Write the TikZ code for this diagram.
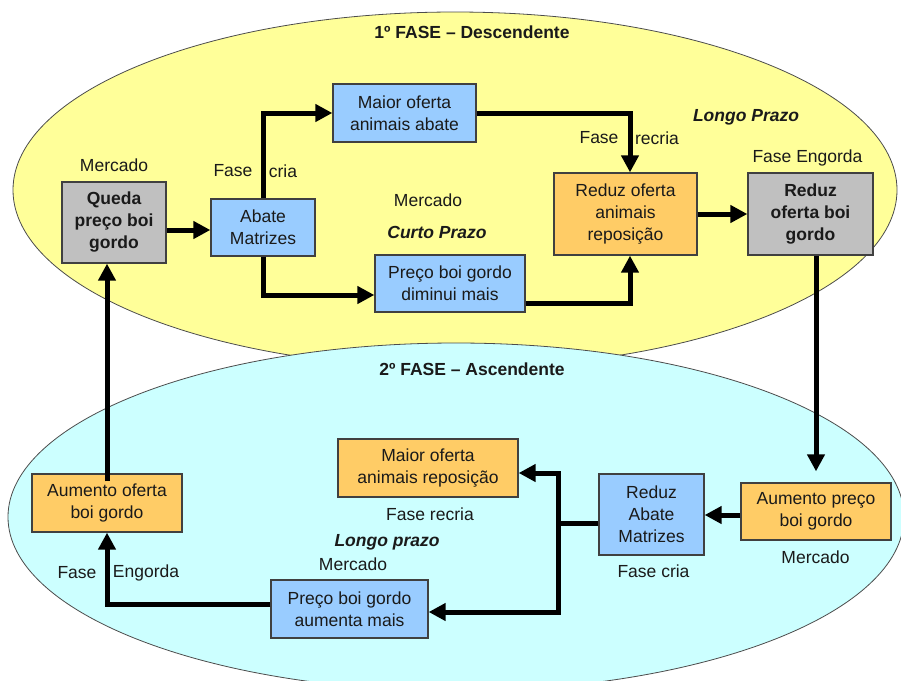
\documentclass[tikz,border=0pt]{standalone}
\usepackage{fontspec}
\setmainfont{Liberation Sans}
\usetikzlibrary{arrows.meta}
\definecolor{ellyellow}{HTML}{FFFF99}
\definecolor{ellcyan}{HTML}{CCFFFF}
\definecolor{boxblue}{HTML}{99CCFF}
\definecolor{boxorange}{HTML}{FFCC66}
\definecolor{boxgray}{HTML}{C0C0C0}
\definecolor{txt}{HTML}{1A1A1A}
\begin{document}
\begin{tikzpicture}[x=1pt,y=-1pt,
  every node/.style={font=\fontsize{17.5}{22}\selectfont, text=txt},
  box/.style={draw=black!75, line width=1.3pt, inner sep=0pt, align=center},
  bluebox/.style={box, fill=boxblue},
  orangebox/.style={box, fill=boxorange},
  graybox/.style={box, fill=boxgray, font=\fontsize{17.5}{22}\selectfont\bfseries},
  lbl/.style={inner sep=0pt},
  title/.style={inner sep=0pt, font=\fontsize{17.5}{22}\selectfont\bfseries},
  italbl/.style={inner sep=0pt, font=\fontsize{17.5}{22}\selectfont\bfseries\itshape},
  conn/.style={line width=5pt, line join=miter, draw=black},
  arr/.style={conn, -{Triangle[length=17pt,width=17pt]}},
  ell/.style={draw=black!70, line width=0.8pt}]
\useasboundingbox (0,0) rectangle (901,680);

% phase ellipses
\path[ell, fill=ellyellow] (455,190) ellipse [x radius=442pt, y radius=178pt];
\path[ell, fill=ellcyan] (456,517) ellipse [x radius=448pt, y radius=174pt];

% boxes, phase 1
\node[graybox, minimum width=104pt, minimum height=81pt] (queda) at (114,222.5) {Queda\\preço boi\\gordo};
\node[bluebox, minimum width=104pt, minimum height=57pt] (abate) at (263,227.5) {Abate\\Matrizes};
\node[bluebox, minimum width=143pt, minimum height=58pt] (maior) at (404.5,113) {Maior oferta\\animais abate};
\node[bluebox, minimum width=150pt, minimum height=57pt] (pdim) at (450,283.5) {Preço boi gordo\\diminui mais};
\node[orangebox, minimum width=143pt, minimum height=82pt] (rrep) at (625.5,214) {Reduz oferta\\animais\\reposição};
\node[graybox, minimum width=125pt, minimum height=82pt] (rboi) at (810.5,214) {Reduz\\oferta boi\\gordo};

% boxes, phase 2
\node[orangebox, minimum width=150pt, minimum height=57pt] (apreco) at (816,511.5) {Aumento preço\\boi gordo};
\node[bluebox, minimum width=105pt, minimum height=81pt] (rab) at (651.5,514.5) {Reduz\\Abate\\Matrizes};
\node[orangebox, minimum width=180pt, minimum height=58pt] (mrep) at (428,468) {Maior oferta\\animais reposição};
\node[orangebox, minimum width=150pt, minimum height=58pt] (aof) at (107,503) {Aumento oferta\\boi gordo};
\node[bluebox, minimum width=157pt, minimum height=58pt] (paum) at (349.5,609) {Preço boi gordo\\aumenta mais};

% labels
\node[title] (t1) at (472,32) {1º FASE – Descendente};
\node[title] (t2) at (472,369) {2º FASE – Ascendente};
\node[lbl] (m1) at (114,165) {Mercado};
\node[lbl] (f1) at (233,171) {Fase};
\node[lbl] (c1) at (283,171) {cria};
\node[lbl] (m2) at (428,200) {Mercado};
\node[italbl] (cp) at (437,232) {Curto Prazo};
\node[lbl] (f2) at (599,138) {Fase};
\node[lbl] (r2) at (657,138) {recria};
\node[italbl] (lp1) at (746,117) {Longo Prazo};
\node[lbl] (fe1) at (807.5,158) {Fase Engorda};
\node[lbl] (fr2) at (430,514) {Fase recria};
\node[italbl] (lp2) at (387,542) {Longo prazo};
\node[lbl] (m3) at (353,564) {Mercado};
\node[lbl] (f3) at (77,573) {Fase};
\node[lbl] (e3) at (146,573) {Engorda};
\node[lbl] (fc2) at (653.5,571) {Fase cria};
\node[lbl] (m4) at (815.5,557) {Mercado};

% connectors, phase 1
\draw[arr] ([yshift=-2.5pt]abate.west -| queda.east) -- ([yshift=-2.5pt]abate.west);
\draw[arr] (abate.north) -- (abate.north |- maior.west) -- (maior.west);
\draw[arr] (abate.south) -- ([yshift=-11.5pt]abate.south |- pdim.west) -- ([yshift=-11.5pt]pdim.west);
\coordinate (rrtop) at ([xshift=4.5pt]rrep.north);
\coordinate (rrbot) at ([xshift=4.5pt]rrep.south);
\draw[arr] (maior.east) -- (maior.east -| rrtop) -- (rrtop);
\draw[arr] ([yshift=-19.5pt]pdim.east) -- ([yshift=-19.5pt]pdim.east -| rrbot) -- (rrbot);
\draw[arr] (rrep.east) -- (rboi.west);

% connectors, phase 2
\draw[arr] (apreco.north |- rboi.south) -- ([yshift=11pt]apreco.north);
\draw[arr] ([yshift=-3.5pt]apreco.west) -- ([yshift=-3.5pt]apreco.west -| rab.east);
\coordinate (junc) at (558,523);
\draw[arr] (junc -| rab.west) -- (junc) -- ([yshift=-5pt]junc |- mrep.east) -- ([yshift=-5pt]mrep.east);
\draw[arr] (junc -| rab.west) -- (junc) -- ([yshift=-3pt]junc |- paum.east) -- ([yshift=-3pt]paum.east);
\draw[arr] ([yshift=5pt]paum.west) -- ([yshift=5pt]paum.west -| aof.south) -- (aof.south);
\draw[arr] ([yshift=-8pt]aof.north) -- (aof.north |- queda.south);
\end{tikzpicture}
\end{document}
